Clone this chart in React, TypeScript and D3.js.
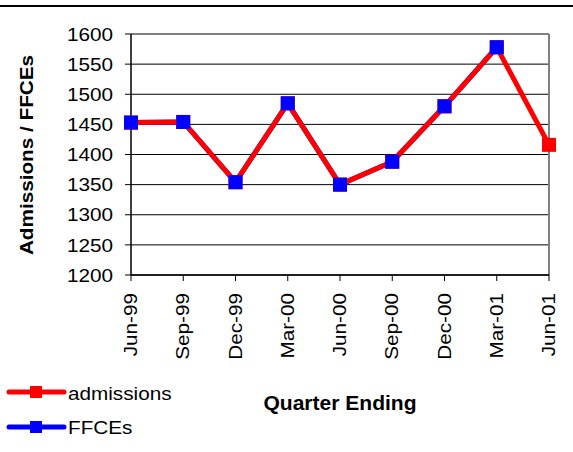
import React from "react";
import * as d3 from "d3";

const categories = ["Jun-99", "Sep-99", "Dec-99", "Mar-00", "Jun-00", "Sep-00", "Dec-00", "Mar-01", "Jun-01"];
const admissions = [1453, 1454, 1354, 1485, 1350, 1388, 1480, 1578, 1416];
const ffces: (number | null)[] = [1453, 1454, 1354, 1485, 1350, 1388, 1480, 1578, null];
const yTicks = [1200, 1250, 1300, 1350, 1400, 1450, 1500, 1550, 1600];

const W = 573;
const H = 452;
const left = 131;
const right = 549;
const top = 34;
const bottom = 275;
const font = "Arial, 'Liberation Sans', sans-serif";
const FS = 18.5;
const SX = 1.12;

export default function App() {
  const x = d3.scalePoint<string>().domain(categories).range([left, right]);
  const y = d3.scaleLinear().domain([1200, 1600]).range([bottom, top]);

  const lineA = d3
    .line<number>()
    .x((_, i) => x(categories[i])!)
    .y((d) => y(d));
  const lineF = d3
    .line<number | null>()
    .defined((d) => d !== null)
    .x((_, i) => x(categories[i])!)
    .y((d) => y(d as number));

  const ms = 14;

  return (
    <svg
      width={W}
      height={H}
      style={{ position: "absolute", left: 0, top: 0, background: "#fff" }}
      fontFamily={font}
    >
      <rect x={0} y={0} width={W} height={H} fill="#fff" />
      <line x1={0} x2={W} y1={6} y2={6} stroke="#000" strokeWidth={2} />

      {/* gridlines */}
      {yTicks.map((t) => (
        <line key={"g" + t} x1={left} x2={right} y1={y(t)} y2={y(t)} stroke="#000" strokeWidth={1} />
      ))}
      {/* plot border top/right */}
      <line x1={left} x2={right} y1={top} y2={top} stroke="#808080" strokeWidth={2} />
      <line x1={right} x2={right} y1={top} y2={bottom} stroke="#808080" strokeWidth={2} />

      {/* y axis */}
      <line x1={left} x2={left} y1={top} y2={bottom} stroke="#000" strokeWidth={1.5} />
      {yTicks.map((t) => (
        <g key={"yt" + t}>
          <line x1={left - 6} x2={left} y1={y(t)} y2={y(t)} stroke="#000" strokeWidth={1} />
          <text
            transform={`translate(${left - 18},${y(t)}) scale(${SX},1)`}
            dy="0.36em"
            textAnchor="end"
            fontSize={FS}
            fill="#000"
          >
            {t}
          </text>
        </g>
      ))}

      {/* x axis */}
      <line x1={left} x2={right} y1={bottom} y2={bottom} stroke="#000" strokeWidth={1.5} />
      {categories.map((c) => (
        <g key={"xt" + c}>
          <line x1={x(c)!} x2={x(c)!} y1={bottom} y2={bottom + 6} stroke="#000" strokeWidth={1} />
          <text
            transform={`translate(${x(c)! + 6},${bottom + 18}) rotate(-90) scale(${SX},1)`}
            textAnchor="end"
            fontSize={FS}
            fill="#000"
          >
            {c}
          </text>
        </g>
      ))}

      {/* series lines */}
      <path d={lineF(ffces)!} fill="none" stroke="#0000ff" strokeWidth={5} />
      <path d={lineA(admissions)!} fill="none" stroke="#ff0000" strokeWidth={5} strokeLinejoin="miter" />
      {admissions.map((v, i) => (
        <rect key={"ma" + i} x={x(categories[i])! - ms / 2} y={y(v) - ms / 2} width={ms} height={ms} fill="#ff0000" />
      ))}
      {ffces.map((v, i) =>
        v === null ? null : (
          <rect key={"mf" + i} x={x(categories[i])! - ms / 2} y={y(v) - ms / 2} width={ms} height={ms} fill="#0000ff" />
        )
      )}

      {/* axis titles */}
      <text
        transform={`translate(33,${155}) rotate(-90) scale(${SX},1)`}
        textAnchor="middle"
        fontSize={FS}
        fontWeight="bold"
        fill="#000"
      >
        Admissions / FFCEs
      </text>
      <text
        transform={`translate(${(left + right) / 2},410) scale(1.08,1)`}
        textAnchor="middle"
        fontSize={19.5}
        fontWeight="bold"
        fill="#000"
      >
        Quarter Ending
      </text>

      {/* legend */}
      {[
        { name: "admissions", color: "#ff0000", yy: 392, ty: 400 },
        { name: "FFCEs", color: "#0000ff", yy: 427, ty: 434 },
      ].map((l) => (
        <g key={l.name}>
          <line x1={9} x2={64} y1={l.yy} y2={l.yy} stroke={l.color} strokeWidth={5} strokeLinecap="round" />
          <rect x={30} y={l.yy - 6} width={12} height={12} fill={l.color} />
          <text transform={`translate(68,${l.ty}) scale(${SX},1)`} fontSize={FS} fill="#000">
            {l.name}
          </text>
        </g>
      ))}
    </svg>
  );
}
